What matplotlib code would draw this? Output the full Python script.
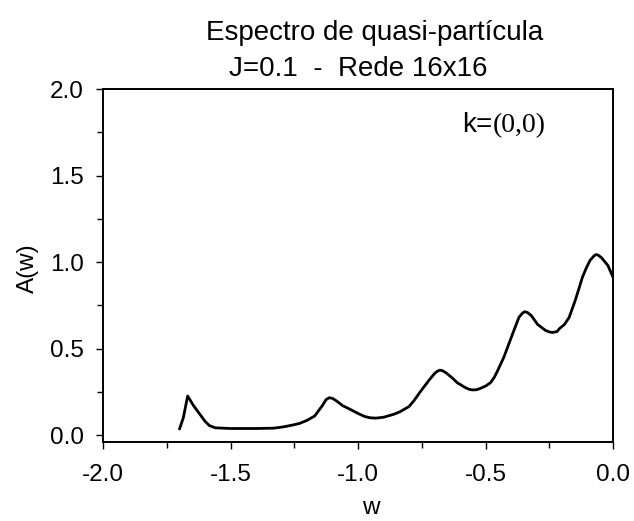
import matplotlib
matplotlib.use("Agg")
import matplotlib.pyplot as plt
from matplotlib.ticker import MultipleLocator

# ---- data ----
w_values = [-1.70, -1.685, -1.668, -1.645, -1.62, -1.60, -1.583, -1.56, -1.50, -1.40,
            -1.33, -1.29, -1.25, -1.228, -1.20, -1.17, -1.14, -1.125, -1.113, -1.10,
            -1.085, -1.06, -1.031, -1.00, -0.975, -0.953, -0.93, -0.90, -0.86, -0.835,
            -0.80, -0.78, -0.756, -0.72, -0.70, -0.69, -0.68, -0.67, -0.655, -0.63,
            -0.611, -0.58, -0.565, -0.552, -0.535, -0.52, -0.50, -0.48, -0.465, -0.45,
            -0.428, -0.40, -0.389, -0.369, -0.355, -0.346, -0.335, -0.32, -0.296, -0.265,
            -0.25, -0.237, -0.22, -0.21, -0.19, -0.172, -0.15, -0.135, -0.12, -0.105,
            -0.09, -0.075, -0.067, -0.058, -0.045, -0.02, 0.0]
A_values = [0.035, 0.10, 0.226, 0.17, 0.12, 0.08, 0.055, 0.042, 0.038, 0.038,
            0.040, 0.048, 0.060, 0.068, 0.085, 0.11, 0.17, 0.205, 0.216, 0.212,
            0.198, 0.17, 0.149, 0.125, 0.108, 0.100, 0.098, 0.103, 0.12, 0.135,
            0.165, 0.20, 0.25, 0.32, 0.355, 0.368, 0.375, 0.373, 0.36, 0.33,
            0.303, 0.275, 0.265, 0.261, 0.262, 0.270, 0.283, 0.303, 0.335, 0.38,
            0.45, 0.56, 0.603, 0.68, 0.705, 0.713, 0.708, 0.69, 0.64, 0.605,
            0.596, 0.593, 0.598, 0.615, 0.64, 0.68, 0.77, 0.84, 0.912, 0.965,
            1.01, 1.035, 1.043, 1.04, 1.025, 0.98, 0.912]

x_ticks = [-2.0, -1.5, -1.0, -0.5, 0.0]
x_tick_labels = ["-2.0", "-1.5", "-1.0", "-0.5", "0.0"]
y_ticks = [0.0, 0.5, 1.0, 1.5, 2.0]
y_tick_labels = ["0.0", "0.5", "1.0", "1.5", "2.0"]

title_line1 = "Espectro de quasi-partícula"
title_line2 = "J=0.1  -  Rede 16x16"
x_label = "w"
y_label = "A(w)"
annot_k = "k="
annot_vec = "(0,0)"

plt.rcParams['font.family'] = ['Liberation Sans', 'DejaVu Sans']

W, H = 634, 521
fig = plt.figure(figsize=(W / 100, H / 100), dpi=100)
ax = fig.add_axes([103 / W, 1 - 442 / H, (613 - 103) / W, (442 - 89) / H])

ax.plot(w_values, A_values, color="black", linewidth=2.0,
        solid_joinstyle="round", solid_capstyle="round")

ax.set_xlim(-2.0, 0.0)
ax.set_ylim(-0.04, 2.0)
ax.set_xticks(x_ticks)
ax.set_xticklabels(x_tick_labels)
ax.set_yticks(y_ticks)
ax.set_yticklabels(y_tick_labels)
ax.xaxis.set_minor_locator(MultipleLocator(0.25))
ax.yaxis.set_minor_locator(MultipleLocator(0.25))
ax.tick_params(which="both", direction="out", top=False, right=False,
               width=1.0, colors="black")
ax.tick_params(which="major", length=5)
ax.tick_params(which="minor", length=4)
ax.tick_params(axis="x", labelsize=17.5, pad=11)
ax.tick_params(axis="y", labelsize=17.5, pad=9)
for s in ax.spines.values():
    s.set_linewidth(1.4)
    s.set_color("black")

fig.text(371 / W, 1 - 508 / H, x_label, ha="center", va="center", fontsize=17.5)
fig.text(28 / W, 1 - 268 / H, y_label, ha="center", va="center", fontsize=17.5,
         rotation=90)

fig.text(375 / W, 1 - 33 / H, title_line1, ha="center", va="center", fontsize=20)
fig.text(358 / W, 1 - 69 / H, title_line2, ha="center", va="center", fontsize=20)

ax.text(-0.59, 1.79, annot_k, ha="left", va="center", fontsize=20,
        family=['Liberation Sans', 'DejaVu Sans'])
ax.text(-0.47, 1.79, annot_vec, ha="left", va="center", fontsize=20,
        family=['Liberation Serif', 'DejaVu Serif'])

fig.savefig("out.png", dpi=100, facecolor="white")
